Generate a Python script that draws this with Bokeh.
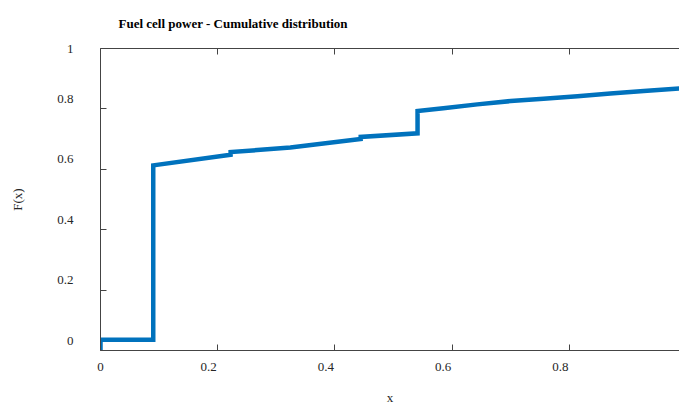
from bokeh.plotting import figure
from bokeh.models import LinearAxis, FixedTicker, Range1d
from bokeh.embed import file_html
from bokeh.resources import INLINE

cdf_x = [0.0, 0.0, 0.09, 0.09, 0.222, 0.222, 0.324, 0.444, 0.444, 0.541, 0.541,
         0.585, 0.643, 0.700, 0.756, 0.814, 0.870, 0.927, 0.988]
cdf_y = [0.0, 0.036, 0.036, 0.613, 0.648, 0.657, 0.672, 0.700, 0.707, 0.719, 0.793,
         0.802, 0.815, 0.826, 0.834, 0.842, 0.851, 0.859, 0.868]

x_ticks = [0.0, 0.2, 0.4, 0.6, 0.8]
x_tick_labels = ["0", "0.2", "0.4", "0.6", "0.8"]
y_ticks = [0.0, 0.2, 0.4, 0.6, 0.8, 1.0]
y_tick_labels = ["0", "0.2", "0.4", "0.6", "0.8", "1"]

X_END = 0.988
FONT = "Liberation Serif"
AX = "#444444"
TXT = "#262626"

# labels in the reference sit a little left of / above their ticks;
# label-only axes whose tick positions are nudged (kept inside the range)
DX = 9 / 586.0
DY = 10 / 306.0
x_label_pos = [max(t - DX, 0.0) for t in x_ticks]
y_label_pos = [min(t + DY, 1.0) for t in y_ticks]

p = figure(width=679, height=407, output_backend="svg", toolbar_location=None,
           x_range=Range1d(0, X_END), y_range=Range1d(0, 1),
           min_border_left=100, min_border_right=0, min_border_top=47, min_border_bottom=54)
p.outline_line_color = None
p.grid.visible = False
p.background_fill_color = "white"
p.border_fill_color = "white"

p.title.text = "Fuel cell power - Cumulative distribution"
p.title.text_font = FONT
p.title.text_font_style = "bold"
p.title.text_font_size = "13px"
p.title.text_color = "black"
p.title.align = "left"
p.title.offset = 18
p.title.standoff = 31
p.title.text_line_height = 0.9
p.title.vertical_align = "top"


def tick_axis(ax, ticks):
    ax.ticker = FixedTicker(ticks=ticks)
    ax.axis_line_color = AX
    ax.major_tick_line_color = AX
    ax.major_tick_in = 6
    ax.major_tick_out = 0
    ax.minor_tick_line_color = None
    ax.major_label_text_alpha = 0
    ax.major_label_text_font_size = "0px"
    ax.major_label_standoff = 0


def label_axis(ax, pos, labels, standoff, title, title_standoff):
    ax.ticker = FixedTicker(ticks=pos)
    ax.major_label_overrides = {t: s for t, s in zip(pos, labels)}
    ax.axis_line_color = None
    ax.major_tick_line_color = None
    ax.minor_tick_line_color = None
    ax.major_tick_in = 0
    ax.major_tick_out = 0
    ax.major_label_standoff = standoff
    ax.major_label_text_font = FONT
    ax.major_label_text_font_size = "13px"
    ax.major_label_text_color = TXT
    ax.axis_label = title
    ax.axis_label_standoff = title_standoff
    ax.axis_label_text_font = FONT
    ax.axis_label_text_font_size = "13px"
    ax.axis_label_text_font_style = "normal"
    ax.axis_label_text_color = TXT


tick_axis(p.xaxis[0], x_ticks)
tick_axis(p.yaxis[0], y_ticks)

top = LinearAxis()
tick_axis(top, x_ticks)
p.add_layout(top, "above")

xlab = LinearAxis()
label_axis(xlab, x_label_pos, x_tick_labels, 12, "x", 16)
p.add_layout(xlab, "below")

ylab = LinearAxis()
label_axis(ylab, y_label_pos, y_tick_labels, 27, "F(x)", 29)
p.add_layout(ylab, "left")

p.line(cdf_x, cdf_y, line_color="#0072BD", line_width=4.5, line_join="miter")

open("out.html", "w").write(file_html(p, INLINE))
